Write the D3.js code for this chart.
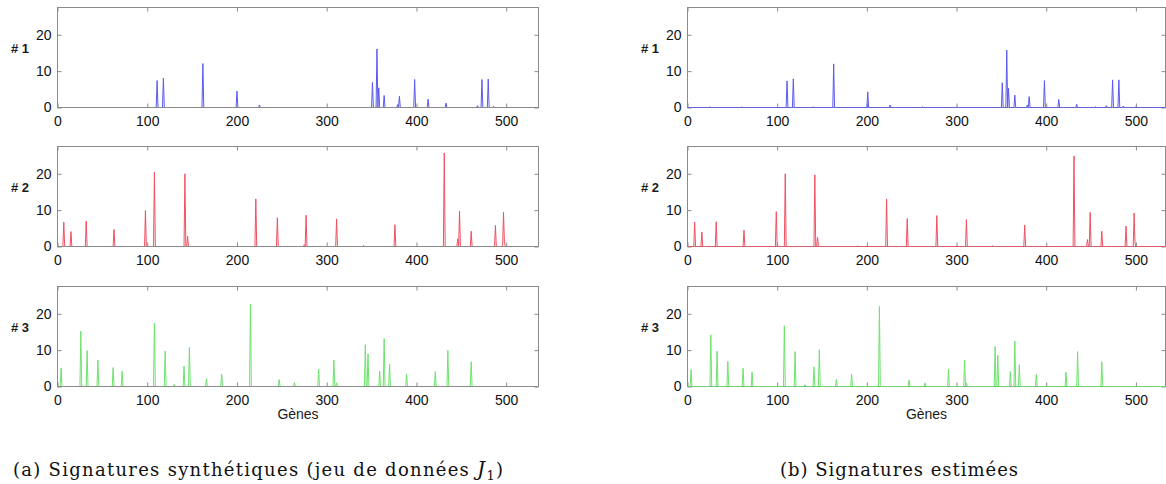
<!DOCTYPE html>
<html>
<head>
<meta charset="utf-8">
<script src="https://cdn.jsdelivr.net/npm/d3@7"></script>
<style>
  html, body { margin: 0; padding: 0; background: #fff; }
  svg { display: block; }
</style>
</head>
<body>
<svg id="chart" width="1166" height="484"></svg>
<script>
// ---------------- DATA ----------------
const nGenes = 536;
const xTicks = [0, 100, 200, 300, 400, 500];
const yTicks = [0, 10, 20];
const rowLabels = ["# 1", "# 2", "# 3"];
const xLabel = "Gènes";
const captionA = "(a) Signatures synthétiques (jeu de données ";
const captionB = "(b) Signatures estimées";

// (a) synthetic signatures: gene index and value of each peak
const synth1Genes = [111, 118, 162, 200, 225, 351, 356, 358, 364, 379, 381, 398, 413, 433, 468, 473, 480, 486];
const synth1Vals  = [7.4, 8.1, 12.1, 4.5, 0.7, 6.9, 16.1, 5.4, 3.3, 0.8, 3.1, 7.7, 2.3, 1.2, 0.5, 7.7, 7.8, 0.3];

const synth2Genes = [7, 15, 32, 63, 98, 108, 142, 145, 221, 245, 275, 277, 311, 341, 376, 431, 446, 448, 461, 488, 497, 498];
const synth2Vals  = [6.7, 4.1, 7.0, 4.7, 9.9, 20.5, 20.0, 2.8, 13.1, 7.9, 0.5, 8.6, 7.6, 0.3, 6.0, 25.7, 2.1, 9.7, 4.2, 5.8, 9.4, 1.2];

const synth3Genes = [4, 26, 33, 45, 62, 72, 108, 120, 130, 141, 147, 166, 183, 215, 247, 264, 291, 308, 311, 343, 346, 359, 364, 370, 389, 421, 435, 461];
const synth3Vals  = [5.1, 15.2, 9.9, 7.3, 5.2, 4.2, 17.4, 9.8, 0.6, 5.6, 10.8, 2.1, 3.4, 22.7, 1.9, 1.1, 4.8, 7.3, 1.0, 11.5, 9.0, 4.2, 13.2, 6.2, 3.5, 4.1, 9.9, 6.8];

// (b) estimated signatures
const est1Genes = [25, 60, 111, 118, 140, 163, 201, 226, 262, 300, 351, 356, 358, 365, 379, 381, 398, 414, 434, 455, 467, 474, 481, 486, 500];
const est1Vals  = [0.2, 0.15, 7.3, 7.9, 0.2, 12.0, 4.3, 0.7, 0.2, 0.15, 6.8, 15.8, 5.3, 3.4, 0.7, 3.0, 7.4, 2.2, 0.9, 0.2, 0.5, 7.6, 7.6, 0.4, 0.25];

const est2Genes = [8, 16, 32, 63, 99, 109, 142, 145, 190, 222, 245, 278, 311, 340, 376, 431, 446, 449, 462, 489, 498, 499];
const est2Vals  = [6.7, 4.0, 6.8, 4.5, 9.6, 20.0, 19.7, 2.6, 0.15, 13.1, 7.7, 8.5, 7.4, 0.2, 5.9, 24.9, 1.9, 9.4, 4.2, 5.6, 9.2, 1.0];

const est3Genes = [4, 26, 33, 45, 62, 72, 108, 120, 131, 141, 147, 166, 183, 214, 247, 265, 291, 309, 311, 343, 346, 360, 365, 370, 389, 422, 435, 462];
const est3Vals  = [4.7, 14.2, 9.7, 6.9, 5.0, 4.0, 16.7, 9.6, 0.5, 5.4, 10.1, 1.9, 3.4, 22.0, 1.8, 1.0, 4.8, 7.2, 1.0, 11.0, 8.6, 4.1, 12.5, 6.0, 3.4, 3.9, 9.6, 6.8];

const colors = ["#5a5af0", "#f05062", "#6ee26e"];

// ---------------- LAYOUT ----------------
const svg = d3.select("#chart");
const rowsTop = [7.5, 146.5, 286.5];
const plotH = 100;
const yMax = 27.5;
const columns = [
  { x0: 57.5, x1: 538.5, xMaxDom: 536, labelX: 20, data: [[synth1Genes, synth1Vals], [synth2Genes, synth2Vals], [synth3Genes, synth3Vals]], lineOnTop: false },
  { x0: 687.5, x1: 1165.5, xMaxDom: 533, labelX: 650, data: [[est1Genes, est1Vals], [est2Genes, est2Vals], [est3Genes, est3Vals]], lineOnTop: true }
];
const axisColor = "#8a8a8a";
const font = "'Liberation Sans', Arial, sans-serif";

function denseSeries(genes, vals) {
  const arr = new Array(nGenes).fill(0);
  genes.forEach((g, i) => { arr[g] = vals[i]; });
  return arr.map((v, i) => ({ g: i, v }));
}

columns.forEach(col => {
  const x = d3.scaleLinear().domain([0, col.xMaxDom]).range([col.x0, col.x1]);
  col.data.forEach((d, r) => {
    const top = rowsTop[r];
    const y = d3.scaleLinear().domain([0, yMax]).range([top + plotH, top]);
    const g = svg.append("g");
    const series = denseSeries(d[0], d[1]);
    const line = d3.line().x(p => x(p.g)).y(p => y(p.v));

    const drawLine = () => g.append("path")
      .attr("d", line(series))
      .attr("fill", "none")
      .attr("stroke", colors[r])
      .attr("stroke-width", 1)
      .attr("stroke-linejoin", "miter");

    if (col.lineOnTop === false) drawLine();

    g.append("rect")
      .attr("x", col.x0).attr("y", top)
      .attr("width", col.x1 - col.x0).attr("height", plotH)
      .attr("fill", "none").attr("stroke", axisColor).attr("stroke-width", 1);

    const bottomAx = d3.axisBottom(x).tickValues(xTicks).tickSize(-4).tickFormat(d3.format("d")).tickPadding(9);
    const gb = g.append("g").attr("transform", `translate(0,${top + plotH})`).call(bottomAx);
    const topAx = d3.axisTop(x).tickValues(xTicks).tickSize(-4).tickFormat("");
    const gt = g.append("g").attr("transform", `translate(0,${top})`).call(topAx);
    const leftAx = d3.axisLeft(y).tickValues(yTicks).tickSize(-4).tickPadding(6);
    const gl = g.append("g").attr("transform", `translate(${col.x0},0)`).call(leftAx);
    const rightAx = d3.axisRight(y).tickValues(yTicks).tickSize(-4).tickFormat("");
    const gr = g.append("g").attr("transform", `translate(${col.x1},0)`).call(rightAx);
    [gb, gt, gl, gr].forEach(a => {
      a.select(".domain").remove();
      a.selectAll(".tick line").attr("stroke", axisColor);
      a.selectAll(".tick text").attr("fill", "#111").style("font-family", font).style("font-size", "14px");
    });

    if (col.lineOnTop === true) drawLine();

    g.append("text")
      .attr("x", col.labelX).attr("y", top + 45)
      .attr("text-anchor", "middle")
      .style("font-family", font).style("font-size", "13px").style("font-weight", "bold")
      .attr("fill", "#1a1a1a")
      .text(rowLabels[r]);
  });

  svg.append("text")
    .attr("x", (col.x0 + col.x1) / 2).attr("y", 419)
    .attr("text-anchor", "middle")
    .style("font-family", font).style("font-size", "14px")
    .attr("fill", "#1a1a1a")
    .text(xLabel);
});

// captions
const serif = "'DejaVu Serif', serif";
const capA = svg.append("text")
  .attr("x", 13).attr("y", 476)
  .attr("textLength", 490).attr("lengthAdjust", "spacing")
  .style("font-family", serif).style("font-size", "18px")
  .attr("fill", "#111");
capA.append("tspan").text(captionA);
capA.append("tspan").style("font-style", "italic").style("font-size", "20px").text("J");
capA.append("tspan").attr("dy", 4).style("font-size", "13px").text("1");
capA.append("tspan").attr("dy", -4).text(")");

svg.append("text")
  .attr("x", 780).attr("y", 476)
  .attr("textLength", 238).attr("lengthAdjust", "spacing")
  .style("font-family", serif).style("font-size", "18px")
  .attr("fill", "#111")
  .text(captionB);
</script>
</body>
</html>
